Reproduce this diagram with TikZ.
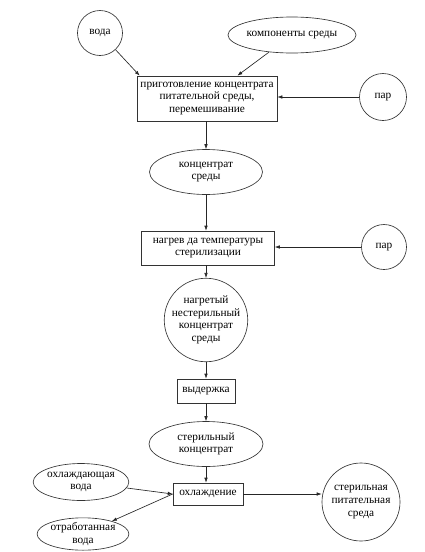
\documentclass[tikz,border=0pt]{standalone}
\usepackage{fontspec}
\setmainfont{Liberation Serif}
\usetikzlibrary{shapes.geometric,arrows.meta}
\begin{document}
\begin{tikzpicture}[x=1pt,y=-1pt,
  base/.style={font=\fontsize{11.3}{12.6}\selectfont, align=center, draw=black!80, line width=0.65pt, inner sep=0pt},
  circ/.style={base, circle, minimum size=#1},
  ell/.style={base, ellipse},
  box/.style={base, rectangle},
  arr/.style={draw=black!85, line width=0.65pt, -{Latex[length=5pt,width=3.6pt]}}
]
\useasboundingbox (0,0) rectangle (424,552);

\node[circ=45pt] (voda) at (100,33) {вода};
\node[ell, minimum width=117pt, minimum height=36pt] (komp) at (292,35) {компоненты среды};
\node[box, minimum width=140pt, minimum height=45pt] (box1) at (207,98.5) {приготовление концентрата\\питательной среды,\\перемешивание};
\node[circ=47pt] (par1) at (383,97) {пар};

\node[ell, minimum width=113pt, minimum height=45pt] (konc) at (206,172) {концентрат\\среды};
\node[box, minimum width=133pt, minimum height=34pt] (box2) at (208,248) {нагрев да температуры\\стерилизации};
\node[circ=45pt] (par2) at (384,247) {пар};

\node[circ=75pt] (nagr) at (206,320) {нагретый\\нестерильный\\концентрат\\среды};
\node[box, minimum width=58pt, minimum height=24pt] (vyd) at (206,391) {выдержка};
\node[ell, minimum width=114pt, minimum height=45pt] (ster) at (206,444) {стерильный\\концентрат};
\node[box, minimum width=70pt, minimum height=22pt] (ohl) at (208,494) {охлаждение};
\node[ell, minimum width=90pt, minimum height=37pt] (ohlv) at (81,482) {охлаждающая\\вода};
\node[ell, minimum width=85pt, minimum height=32pt] (otrv) at (83,534) {отработанная\\вода};
\node[circ=78pt] (sps) at (361,502) {стерильная\\питательная\\среда};

\draw[arr] (voda) -- ([xshift=3pt]box1.north west);
\draw[arr] (komp) -- ([xshift=-40pt]box1.north east);
\draw[arr] (par1.west) -- (box1.east |- par1.west);
\draw[arr] (box1.south -| konc.north) -- (konc.north);
\draw[arr] (konc.south) -- (box2.north -| konc.south);
\draw[arr] (par2.west) -- (box2.east |- par2.west);
\draw[arr] (box2.south -| nagr.north) -- (nagr.north);
\draw[arr] (nagr.south) -- (vyd.north);
\draw[arr] (vyd.south) -- (ster.north);
\draw[arr] (ster.south) -- (ohl.north -| ster.south);
\draw[arr] (ohlv) -- (ohl.west);
\draw[arr] (ohl.west) -- (otrv);
\draw[arr] (ohl.east) -- (ohl.east -| sps.west);
\end{tikzpicture}
\end{document}
